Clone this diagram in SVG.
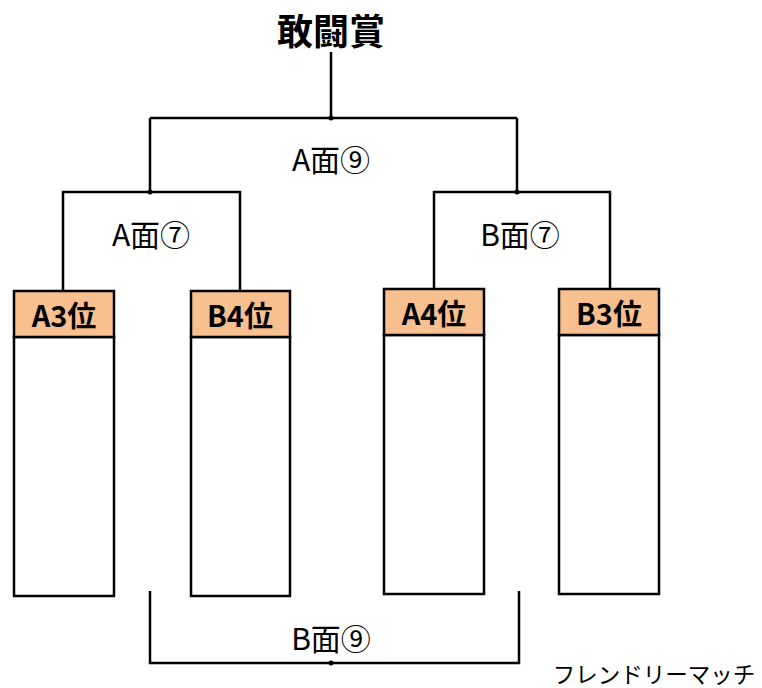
<svg xmlns="http://www.w3.org/2000/svg" width="762" height="688" viewBox="0 0 762 688">
<style>
.ln{fill:none;stroke:#000;stroke-width:2.5}
.hd{fill:#F9C08F;stroke:#000;stroke-width:2.5}
.bd{fill:#fff;stroke:#000;stroke-width:2.5}
.t{font-family:"Noto Sans CJK JP","Liberation Sans",sans-serif;fill:#000;text-anchor:middle}
.b{font-weight:bold}
.lb{font-size:30px}
.h{font-size:29px;font-weight:bold}
</style>
<rect width="762" height="688" fill="#fff"/>
<g id="connectors">
<path class="ln" d="M331,52 V118 M150,118 H517 M150,118 V192 M517,118 V192"/>
<path class="ln" d="M63,290 V192 H240 V290"/>
<path class="ln" d="M434,289 V192 H610 V289"/>
<path class="ln" d="M150,591 V663 H519 V591"/>
<circle cx="331" cy="118" r="2.5"/>
<circle cx="150" cy="192" r="2.5"/>
<circle cx="517" cy="192" r="2.5"/>
<circle cx="331" cy="663" r="2.5"/>
</g>
<g id="title"><text class="t b" x="331" y="45" font-size="36">敢闘賞</text></g>
<g id="label-a9"><text class="t lb" x="331" y="171">A面⑨</text></g>
<g id="label-a7"><text class="t lb" x="151" y="246">A面⑦</text></g>
<g id="label-b7"><text class="t lb" x="520" y="246">B面⑦</text></g>
<g id="label-b9"><text class="t lb" x="331" y="650">B面⑨</text></g>
<g id="node-a3">
<rect class="bd" x="14" y="337" width="100" height="259"/>
<rect class="hd" x="14" y="291" width="100" height="46"/>
<text class="t h" x="64" y="327">A3位</text>
</g>
<g id="node-b4">
<rect class="bd" x="191" y="337" width="99" height="259"/>
<rect class="hd" x="191" y="291" width="99" height="46"/>
<text class="t h" x="240" y="327">B4位</text>
</g>
<g id="node-a4">
<rect class="bd" x="384" y="335" width="100" height="259"/>
<rect class="hd" x="384" y="289" width="100" height="46"/>
<text class="t h" x="434" y="325">A4位</text>
</g>
<g id="node-b3">
<rect class="bd" x="559" y="335" width="100" height="259"/>
<rect class="hd" x="559" y="289" width="100" height="46"/>
<text class="t h" x="609" y="325">B3位</text>
</g>
<g id="note"><text class="t" x="654" y="683" font-size="22.5">フレンドリーマッチ</text></g>
</svg>
